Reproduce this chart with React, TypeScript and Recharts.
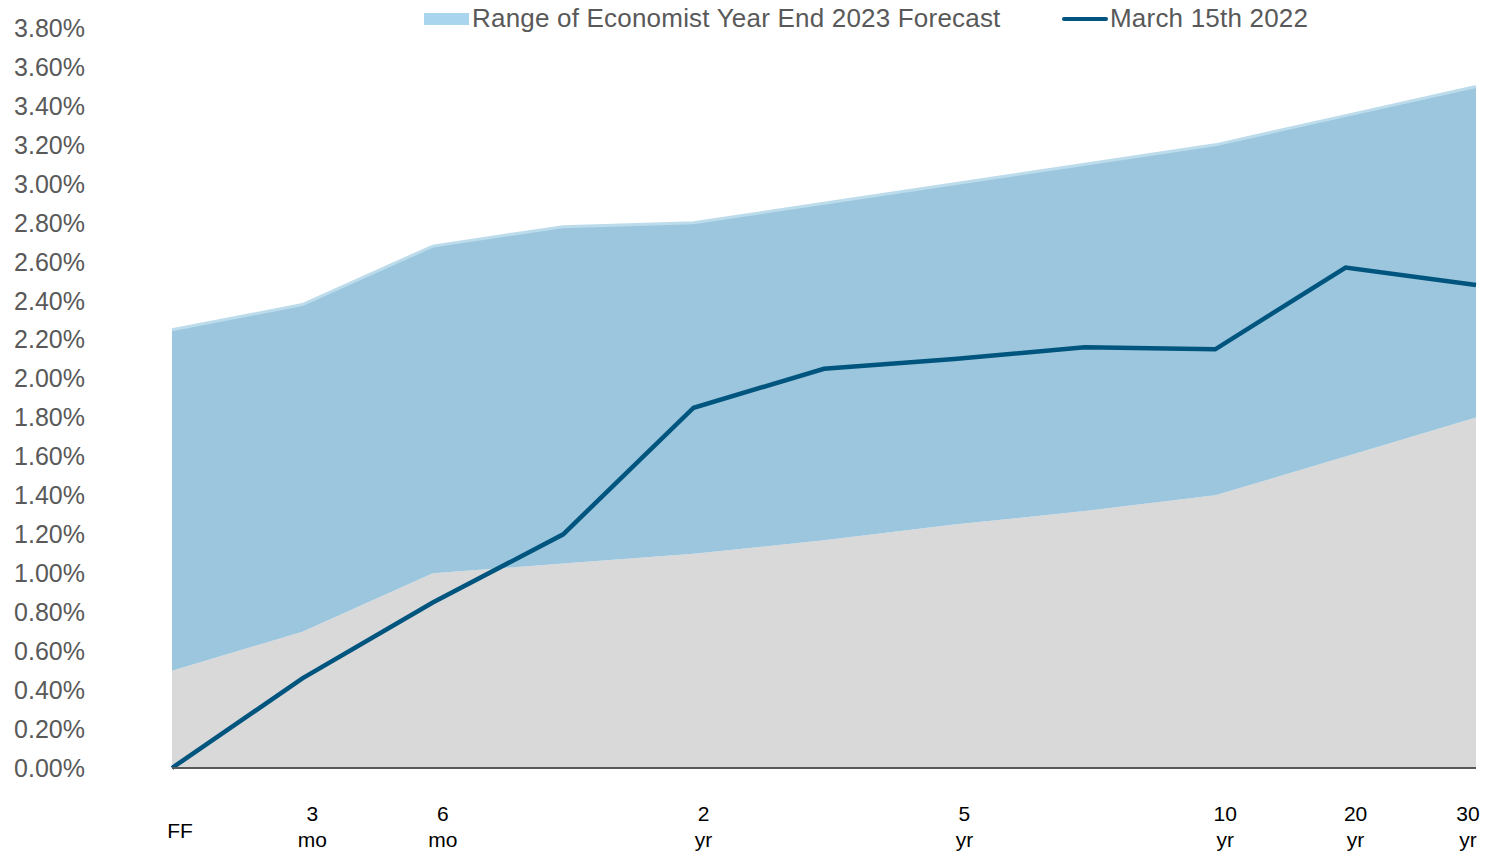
import { ComposedChart, Area, Line, XAxis, YAxis, Legend } from "recharts";

const categories = ["FF", "3 mo", "6 mo", "1 yr", "2 yr", "3 yr", "5 yr", "7 yr", "10 yr", "20 yr", "30 yr"];
// two-line tick labels, blank where the original shows none
const tickTop = ["FF", "3", "6", "", "2", "", "5", "", "10", "20", "30"];
const tickBottom = ["", "mo", "mo", "", "yr", "", "yr", "", "yr", "yr", "yr"];

const forecastLow = [0.5, 0.7, 1.0, 1.05, 1.1, 1.17, 1.25, 1.32, 1.4, 1.6, 1.8];
const forecastHigh = [2.25, 2.38, 2.68, 2.78, 2.8, 2.9, 3.0, 3.1, 3.2, 3.35, 3.5];
const march15 = [0.0, 0.46, 0.85, 1.2, 1.85, 2.05, 2.1, 2.16, 2.15, 2.57, 2.48];

const yTicks = Array.from({ length: 20 }, (_, i) => i * 0.2);

const data = categories.map((c, i) => ({
  name: c,
  low: forecastLow[i],
  spread: forecastHigh[i] - forecastLow[i],
  march: march15[i],
}));

const FONT = '"Liberation Sans", Arial, sans-serif';

function XTick(props: any) {
  const { x, y, payload } = props;
  const i = payload.index;
  const top = tickTop[i];
  const bottom = tickBottom[i];
  if (!top) return null;
  // nudge right like the original, but keep the last label inside the frame
  const cx = Math.min(x + 10, 1468);
  if (!bottom) {
    return (
      <text x={x + 8} y={y + 62} textAnchor="middle" fill="#000" fontSize={21} fontFamily={FONT}>
        {top}
      </text>
    );
  }
  return (
    <text x={cx} textAnchor="middle" fill="#000" fontSize={21} fontFamily={FONT}>
      <tspan x={cx} y={y + 45}>{top}</tspan>
      <tspan x={cx} y={y + 71}>{bottom}</tspan>
    </text>
  );
}

function LegendBox() {
  return (
    <div
      style={{
        position: "relative",
        height: 40,
        fontFamily: FONT,
        fontSize: 26,
        letterSpacing: 0.2,
        color: "#595959",
      }}
    >
      <div style={{ position: "absolute", left: 424, top: 13, width: 45, height: 12, background: "#A9D6EE" }} />
      <div style={{ position: "absolute", left: 472, top: 3, lineHeight: "30px", whiteSpace: "nowrap" }}>
        Range of Economist Year End 2023 Forecast
      </div>
      <div style={{ position: "absolute", left: 1062, top: 17, width: 46, height: 4, borderRadius: 2, background: "#00557F" }} />
      <div style={{ position: "absolute", left: 1110, top: 3, lineHeight: "30px", whiteSpace: "nowrap" }}>
        March 15th 2022
      </div>
    </div>
  );
}

export default function App() {
  return (
    <div style={{ position: "absolute", left: 0, top: 0, width: 1486, height: 856, background: "#fff" }}>
      <ComposedChart width={1486} height={856} data={data} margin={{ top: 28, right: 10, bottom: 0, left: 0 }}>
        <XAxis
          dataKey="name"
          scale="point"
          padding={{ left: 0, right: 0 }}
          height={88}
          axisLine={{ stroke: "#595959", strokeWidth: 2 }}
          tickLine={false}
          tick={<XTick />}
          interval={0}
        />
        <YAxis
          domain={[0, 3.8]}
          ticks={yTicks}
          width={172}
          axisLine={false}
          tickLine={false}
          tickSize={0}
          tickMargin={87}
          tickFormatter={(v: number) => v.toFixed(2) + "%"}
          tick={{ fill: "#595959", fontSize: 25, fontFamily: FONT }}
        />
        <Legend verticalAlign="middle" align="center" wrapperStyle={{ top: 0, left: 0, width: 1486 }} content={<LegendBox />} />
        <Area
          type="linear"
          dataKey="low"
          stackId="range"
          fill="#D9D9D9"
          fillOpacity={1}
          stroke="none"
          isAnimationActive={false}
        />
        <Area
          type="linear"
          dataKey="spread"
          stackId="range"
          fill="#9BC6DE"
          fillOpacity={1}
          stroke="#BCDCEC"
          strokeWidth={3}
          isAnimationActive={false}
        />
        <Line
          type="linear"
          dataKey="march"
          stroke="#00557F"
          strokeWidth={4.5}
          dot={false}
          isAnimationActive={false}
        />
      </ComposedChart>
    </div>
  );
}
